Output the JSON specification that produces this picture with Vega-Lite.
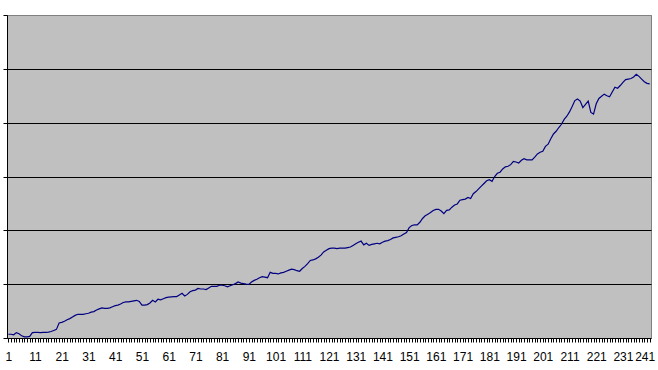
{
  "$schema": "https://vega.github.io/schema/vega-lite/v6.json",
  "autosize": {"type": "none"},
  "padding": {"left": 7, "top": 15, "right": 7, "bottom": 32},
  "width": 644,
  "height": 323,
  "background": "#FFFFFF",
  "config": {
    "view": {"fill": "#C0C0C0", "stroke": "#808080", "strokeWidth": 1},
    "axis": {"labelFont": "Liberation Sans, Arial, sans-serif", "labelColor": "#000000"}
  },
  "data": {"values": [
    {"i":1,"v":0.07},{"i":2,"v":0.07},{"i":3,"v":0.06},{"i":4,"v":0.10},{"i":5,"v":0.08},{"i":6,"v":0.04},{"i":7,"v":0.02},{"i":8,"v":0.02},{"i":9,"v":0.03},{"i":10,"v":0.10},
    {"i":11,"v":0.105},{"i":12,"v":0.105},{"i":13,"v":0.10},{"i":14,"v":0.105},{"i":15,"v":0.105},{"i":16,"v":0.11},{"i":17,"v":0.12},{"i":18,"v":0.14},{"i":19,"v":0.16},{"i":20,"v":0.28},
    {"i":21,"v":0.29},{"i":22,"v":0.31},{"i":23,"v":0.34},{"i":24,"v":0.36},{"i":25,"v":0.39},{"i":26,"v":0.42},{"i":27,"v":0.44},{"i":28,"v":0.44},{"i":29,"v":0.44},{"i":30,"v":0.45},
    {"i":31,"v":0.46},{"i":32,"v":0.48},{"i":33,"v":0.49},{"i":34,"v":0.52},{"i":35,"v":0.54},{"i":36,"v":0.56},{"i":37,"v":0.55},{"i":38,"v":0.55},{"i":39,"v":0.56},{"i":40,"v":0.58},
    {"i":41,"v":0.60},{"i":42,"v":0.61},{"i":43,"v":0.63},{"i":44,"v":0.66},{"i":45,"v":0.67},{"i":46,"v":0.67},{"i":47,"v":0.68},{"i":48,"v":0.69},{"i":49,"v":0.70},{"i":50,"v":0.68},
    {"i":51,"v":0.61},{"i":52,"v":0.61},{"i":53,"v":0.62},{"i":54,"v":0.65},{"i":55,"v":0.70},{"i":56,"v":0.67},{"i":57,"v":0.72},{"i":58,"v":0.71},{"i":59,"v":0.73},{"i":60,"v":0.75},
    {"i":61,"v":0.76},{"i":62,"v":0.765},{"i":63,"v":0.77},{"i":64,"v":0.77},{"i":65,"v":0.80},{"i":66,"v":0.83},{"i":67,"v":0.78},{"i":68,"v":0.81},{"i":69,"v":0.86},{"i":70,"v":0.88},
    {"i":71,"v":0.89},{"i":72,"v":0.92},{"i":73,"v":0.91},{"i":74,"v":0.91},{"i":75,"v":0.90},{"i":76,"v":0.93},{"i":77,"v":0.96},{"i":78,"v":0.96},{"i":79,"v":0.96},{"i":80,"v":0.98},
    {"i":81,"v":0.98},{"i":82,"v":0.97},{"i":83,"v":0.95},{"i":84,"v":0.97},{"i":85,"v":0.99},{"i":86,"v":1.01},{"i":87,"v":1.04},{"i":88,"v":1.02},{"i":89,"v":1.01},{"i":90,"v":1.00},
    {"i":91,"v":0.995},{"i":92,"v":1.04},{"i":93,"v":1.07},{"i":94,"v":1.09},{"i":95,"v":1.12},{"i":96,"v":1.14},{"i":97,"v":1.13},{"i":98,"v":1.12},{"i":99,"v":1.22},{"i":100,"v":1.20},
    {"i":101,"v":1.20},{"i":102,"v":1.19},{"i":103,"v":1.21},{"i":104,"v":1.22},{"i":105,"v":1.24},{"i":106,"v":1.26},{"i":107,"v":1.28},{"i":108,"v":1.27},{"i":109,"v":1.25},{"i":110,"v":1.24},
    {"i":111,"v":1.29},{"i":112,"v":1.33},{"i":113,"v":1.38},{"i":114,"v":1.44},{"i":115,"v":1.45},{"i":116,"v":1.47},{"i":117,"v":1.50},{"i":118,"v":1.54},{"i":119,"v":1.60},{"i":120,"v":1.63},
    {"i":121,"v":1.66},{"i":122,"v":1.67},{"i":123,"v":1.67},{"i":124,"v":1.66},{"i":125,"v":1.67},{"i":126,"v":1.67},{"i":127,"v":1.67},{"i":128,"v":1.68},{"i":129,"v":1.69},{"i":130,"v":1.72},
    {"i":131,"v":1.75},{"i":132,"v":1.78},{"i":133,"v":1.80},{"i":134,"v":1.73},{"i":135,"v":1.76},{"i":136,"v":1.72},{"i":137,"v":1.74},{"i":138,"v":1.75},{"i":139,"v":1.76},{"i":140,"v":1.75},
    {"i":141,"v":1.78},{"i":142,"v":1.80},{"i":143,"v":1.81},{"i":144,"v":1.83},{"i":145,"v":1.86},{"i":146,"v":1.87},{"i":147,"v":1.88},{"i":148,"v":1.90},{"i":149,"v":1.93},{"i":150,"v":1.96},
    {"i":151,"v":2.05},{"i":152,"v":2.09},{"i":153,"v":2.10},{"i":154,"v":2.10},{"i":155,"v":2.15},{"i":156,"v":2.22},{"i":157,"v":2.27},{"i":158,"v":2.30},{"i":159,"v":2.33},{"i":160,"v":2.37},
    {"i":161,"v":2.39},{"i":162,"v":2.39},{"i":163,"v":2.36},{"i":164,"v":2.31},{"i":165,"v":2.37},{"i":166,"v":2.38},{"i":167,"v":2.43},{"i":168,"v":2.47},{"i":169,"v":2.49},{"i":170,"v":2.56},
    {"i":171,"v":2.57},{"i":172,"v":2.58},{"i":173,"v":2.61},{"i":174,"v":2.59},{"i":175,"v":2.68},{"i":176,"v":2.72},{"i":177,"v":2.77},{"i":178,"v":2.82},{"i":179,"v":2.87},{"i":180,"v":2.92},
    {"i":181,"v":2.94},{"i":182,"v":2.91},{"i":183,"v":3.00},{"i":184,"v":3.06},{"i":185,"v":3.08},{"i":186,"v":3.14},{"i":187,"v":3.18},{"i":188,"v":3.19},{"i":189,"v":3.22},{"i":190,"v":3.28},
    {"i":191,"v":3.27},{"i":192,"v":3.25},{"i":193,"v":3.30},{"i":194,"v":3.33},{"i":195,"v":3.31},{"i":196,"v":3.31},{"i":197,"v":3.31},{"i":198,"v":3.36},{"i":199,"v":3.42},{"i":200,"v":3.45},
    {"i":201,"v":3.47},{"i":202,"v":3.56},{"i":203,"v":3.60},{"i":204,"v":3.70},{"i":205,"v":3.79},{"i":206,"v":3.84},{"i":207,"v":3.91},{"i":208,"v":3.97},{"i":209,"v":4.06},{"i":210,"v":4.12},
    {"i":211,"v":4.20},{"i":212,"v":4.30},{"i":213,"v":4.41},{"i":214,"v":4.44},{"i":215,"v":4.40},{"i":216,"v":4.28},{"i":217,"v":4.34},{"i":218,"v":4.40},{"i":219,"v":4.19},{"i":220,"v":4.16},
    {"i":221,"v":4.35},{"i":222,"v":4.45},{"i":223,"v":4.49},{"i":224,"v":4.53},{"i":225,"v":4.50},{"i":226,"v":4.48},{"i":227,"v":4.57},{"i":228,"v":4.66},{"i":229,"v":4.64},{"i":230,"v":4.69},
    {"i":231,"v":4.75},{"i":232,"v":4.80},{"i":233,"v":4.81},{"i":234,"v":4.82},{"i":235,"v":4.85},{"i":236,"v":4.90},{"i":237,"v":4.86},{"i":238,"v":4.81},{"i":239,"v":4.76},{"i":240,"v":4.73},
    {"i":241,"v":4.72}
  ]},
  "mark": {"type": "line", "color": "#000080", "strokeWidth": 1.2, "interpolate": "linear"},
  "encoding": {
    "x": {
      "field": "i",
      "type": "ordinal",
      "sort": "ascending",
      "scale": {"type": "point", "padding": 0.5},
      "axis": {
        "title": null,
        "labelAngle": 0,
        "labelOverlap": false,
        "labelFlush": false,
        "labelExpr": "(datum.value - 1) % 10 == 0 ? datum.label : ''",
        "labelFontSize": 12,
        "labelPadding": 9,
        "labelOffset": {"condition": {"test": "datum.value == 241", "value": -5}, "value": 0},
        "domainColor": "#000000",
        "domainWidth": 1,
        "tickColor": "#000000",
        "tickSize": 4,
        "tickWidth": 1,
        "grid": false
      }
    },
    "y": {
      "field": "v",
      "type": "quantitative",
      "scale": {"domain": [0, 6], "nice": false, "zero": true},
      "axis": {
        "title": null,
        "labels": false,
        "values": [0, 1, 2, 3, 4, 5, 6],
        "domainColor": "#000000",
        "domainWidth": 1,
        "tickColor": "#000000",
        "tickSize": 4,
        "tickWidth": 1,
        "grid": true,
        "gridColor": {"condition": {"test": "datum.value >= 6 || datum.value <= 0", "value": "#808080"}, "value": "#000000"},
        "gridOpacity": 1,
        "gridWidth": 1
      }
    }
  }
}
